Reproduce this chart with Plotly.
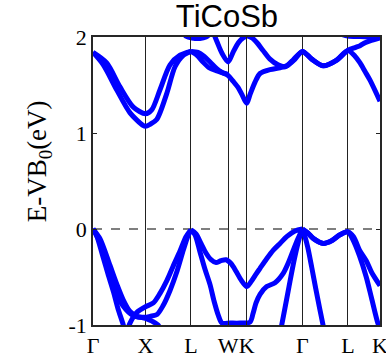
import plotly.graph_objects as go

# High-symmetry points (k-path distance, 2pi/a units)
KPOINTS = [0.0, 1.0, 1.866, 2.573, 2.927, 3.988, 4.854, 5.466]
KLABELS = ["Γ", "X", "L", "W", "K", "Γ", "L", "K"]
YTICKS = [-1, 0, 1, 2]
TITLE = "TiCoSb"
YLABEL = "E-VB<sub>0</sub>(eV)"

# ---- conduction bands (k, E) ----
cb1_k = [0, 0.196, 0.451, 0.705, 0.952, 1.0, 1.086, 1.213, 1.404, 1.562, 1.72, 1.866]
cb1_e = [1.84, 1.71, 1.45, 1.21, 1.08, 1.07, 1.09, 1.14, 1.41, 1.69, 1.81, 1.85]

cb2_k = [0, 0.261, 0.514, 0.768, 1.0, 1.118, 1.276, 1.467, 1.657, 1.866]
cb2_e = [1.84, 1.73, 1.48, 1.27, 1.20, 1.24, 1.45, 1.71, 1.81, 1.85]

cb3_k = [1.866, 2.0, 2.114, 2.229, 2.356, 2.457, 2.573, 2.667, 2.768, 2.838, 2.927, 2.99,
         3.086, 3.181, 3.371, 3.562, 3.695, 3.848, 3.988, 4.166, 4.387, 4.642, 4.854,
         4.99, 5.086, 5.181, 5.276, 5.466]
cb3_e = [1.85, 1.84, 1.80, 1.74, 1.67, 1.63, 1.60, 1.54, 1.47, 1.40, 1.31, 1.40,
         1.53, 1.62, 1.66, 1.68, 1.70, 1.77, 1.85, 1.77, 1.70, 1.76, 1.86,
         1.80, 1.73, 1.64, 1.55, 1.33]

cb4_k = [1.866, 1.981, 2.095, 2.21, 2.343, 2.457, 2.573]
cb4_e = [1.85, 1.81, 1.74, 1.68, 1.65, 1.63, 1.61]

cb5_k = [2.267, 2.362, 2.457, 2.573, 2.667, 2.768, 2.857, 2.933, 3.029, 3.124, 3.238,
         3.371, 3.524, 3.657, 3.81, 3.988, 4.166, 4.387, 4.642, 4.854, 4.99, 5.086,
         5.181, 5.276, 5.466]
cb5_e = [2.08, 1.95, 1.83, 1.74, 1.84, 1.94, 1.99, 2.01, 1.99, 1.94, 1.86,
         1.77, 1.71, 1.69, 1.76, 1.85, 1.77, 1.70, 1.76, 1.86, 1.89, 1.91,
         1.94, 1.96, 1.99]

cb6_k = [1.657, 1.771, 1.886, 2.038, 2.152, 2.267]
cb6_e = [2.08, 2.01, 1.99, 1.985, 2.0, 2.05]

cb7_k = [4.61, 4.854, 5.086, 5.276, 5.466]
cb7_e = [2.05, 2.01, 2.005, 2.0, 1.995]

# ---- valence bands (k, E) ----
vb1_k = [0, 0.057, 0.095, 0.196, 0.286, 0.387, 0.476, 0.577, 0.648]
vb1_e = [0, -0.05, -0.11, -0.30, -0.47, -0.65, -0.83, -1.0, -1.15]

vb2_k = [0, 0.133, 0.324, 0.457, 0.577, 0.705, 0.838, 1.0, 1.124, 1.238, 1.314]
vb2_e = [0, -0.10, -0.38, -0.58, -0.74, -0.86, -0.91, -0.93, -0.96, -1.0, -1.08]

vb3_k = [0, 0.133, 0.286, 0.419, 0.571, 0.762, 1.0, 1.086, 1.219, 1.333, 1.467, 1.6, 1.72, 1.81, 1.866]
vb3_e = [0, -0.14, -0.40, -0.63, -0.80, -0.90, -0.92, -0.91, -0.89, -0.80, -0.64, -0.44, -0.22, -0.07, -0.01]

vb4_k = [0.629, 0.705, 0.832, 1.0, 1.149, 1.276, 1.404, 1.524, 1.657, 1.771, 1.866]
vb4_e = [-1.1, -0.98, -0.87, -0.81, -0.77, -0.67, -0.54, -0.39, -0.23, -0.08, -0.01]

vb5_k = [1.866, 1.962, 2.057, 2.152, 2.248, 2.343, 2.438, 2.533, 2.629, 2.724, 2.819, 2.927,
         3.009, 3.105, 3.181, 3.308, 3.434, 3.562, 3.689, 3.848, 3.988]
vb5_e = [-0.01, -0.05, -0.15, -0.25, -0.32, -0.35, -0.33, -0.32, -0.36, -0.44, -0.53, -0.60,
         -0.55, -0.47, -0.41, -0.31, -0.22, -0.15, -0.08, -0.02, 0]

vb6_k = [1.866, 1.943, 2.038, 2.133, 2.229, 2.305, 2.387, 2.457, 2.61, 2.8, 2.99, 3.048,
         3.105, 3.181, 3.308, 3.467, 3.625, 3.714, 3.815, 3.905, 3.988]
vb6_e = [-0.01, -0.06, -0.24, -0.42, -0.58, -0.75, -0.90, -0.98, -0.98, -0.98, -0.97, -0.88,
         -0.77, -0.68, -0.60, -0.56, -0.46, -0.36, -0.22, -0.10, 0]

vb7_k = [3.562, 3.594, 3.657, 3.733, 3.81, 3.886, 3.943, 3.988]
vb7_e = [-1.08, -1.0, -0.82, -0.60, -0.38, -0.19, -0.07, 0]

vb8_k = [3.988, 4.032, 4.09, 4.166, 4.242, 4.318, 4.381, 4.414]
vb8_e = [0, -0.07, -0.19, -0.40, -0.62, -0.83, -1.0, -1.08]

vb9_k = [3.988, 4.09, 4.2, 4.387, 4.552, 4.705, 4.854, 4.962, 5.076, 5.204, 5.305, 5.466]
vb9_e = [0, -0.04, -0.10, -0.15, -0.12, -0.06, -0.03, -0.08, -0.22, -0.33, -0.45, -0.59]

vb10_k = [3.988, 4.09, 4.2, 4.387, 4.552, 4.705, 4.854, 4.949, 5.076, 5.204, 5.305, 5.425, 5.48]
vb10_e = [0, -0.04, -0.10, -0.15, -0.12, -0.06, -0.03, -0.11, -0.28, -0.50, -0.72, -0.98, -1.05]

bands = [
    (cb1_k, cb1_e), (cb2_k, cb2_e), (cb3_k, cb3_e), (cb4_k, cb4_e), (cb5_k, cb5_e),
    (cb6_k, cb6_e), (cb7_k, cb7_e),
    (vb1_k, vb1_e), (vb2_k, vb2_e), (vb3_k, vb3_e), (vb4_k, vb4_e), (vb5_k, vb5_e),
    (vb6_k, vb6_e), (vb7_k, vb7_e), (vb8_k, vb8_e), (vb9_k, vb9_e), (vb10_k, vb10_e),
]

fig = go.Figure()
for k, e in bands:
    fig.add_trace(go.Scatter(
        x=k, y=e, mode="lines",
        line=dict(color="#0000ff", width=5, shape="spline", smoothing=0.8),
        hoverinfo="skip", showlegend=False,
    ))

fig.add_shape(type="line", xref="x", yref="y", x0=KPOINTS[0], x1=KPOINTS[-1], y0=0, y1=0,
              line=dict(color="#555555", width=1.5, dash="dash"), layer="below")

serif = "Liberation Serif, Times New Roman, serif"
fig.update_layout(
    width=386, height=363,
    margin=dict(l=93, r=6, t=37, b=38, autoexpand=False),
    paper_bgcolor="white", plot_bgcolor="white",
    title=dict(text=TITLE, x=0.588, xref="container", xanchor="center",
               y=0.955, yref="container", yanchor="middle",
               font=dict(family="Liberation Sans, Arial, sans-serif", size=31, color="black")),
)
fig.add_annotation(
    text=YLABEL, xref="paper", yref="paper", x=-0.185, y=0.568,
    xanchor="center", yanchor="middle", textangle=-90, showarrow=False,
    font=dict(family=serif, size=27, color="black"),
)
fig.update_xaxes(
    range=[KPOINTS[0], KPOINTS[-1]], tickmode="array", tickvals=KPOINTS, ticktext=KLABELS,
    tickangle=0, automargin=False, ticklabeloverflow="allow",
    showgrid=True, gridcolor="#222222", gridwidth=1, zeroline=False,
    ticks="inside", ticklen=4, tickcolor="#222222",
    showline=True, mirror="ticks", linecolor="#262626", linewidth=1.5,
    tickfont=dict(family=serif, size=22, color="black"),
)
fig.update_yaxes(
    range=[-1, 2], tickmode="array", tickvals=YTICKS, ticktext=[str(v) for v in YTICKS],
    automargin=False, ticklabeloverflow="allow",
    showgrid=False, zeroline=False,
    ticks="inside", ticklen=4, tickcolor="#222222",
    showline=True, mirror="ticks", linecolor="#262626", linewidth=1.5,
    tickfont=dict(family=serif, size=22, color="black"),
)

fig.write_html(
    "out.html",
    config={"displayModeBar": False},
    post_script="document.body.style.margin='0';document.body.style.overflow='hidden';",
)
